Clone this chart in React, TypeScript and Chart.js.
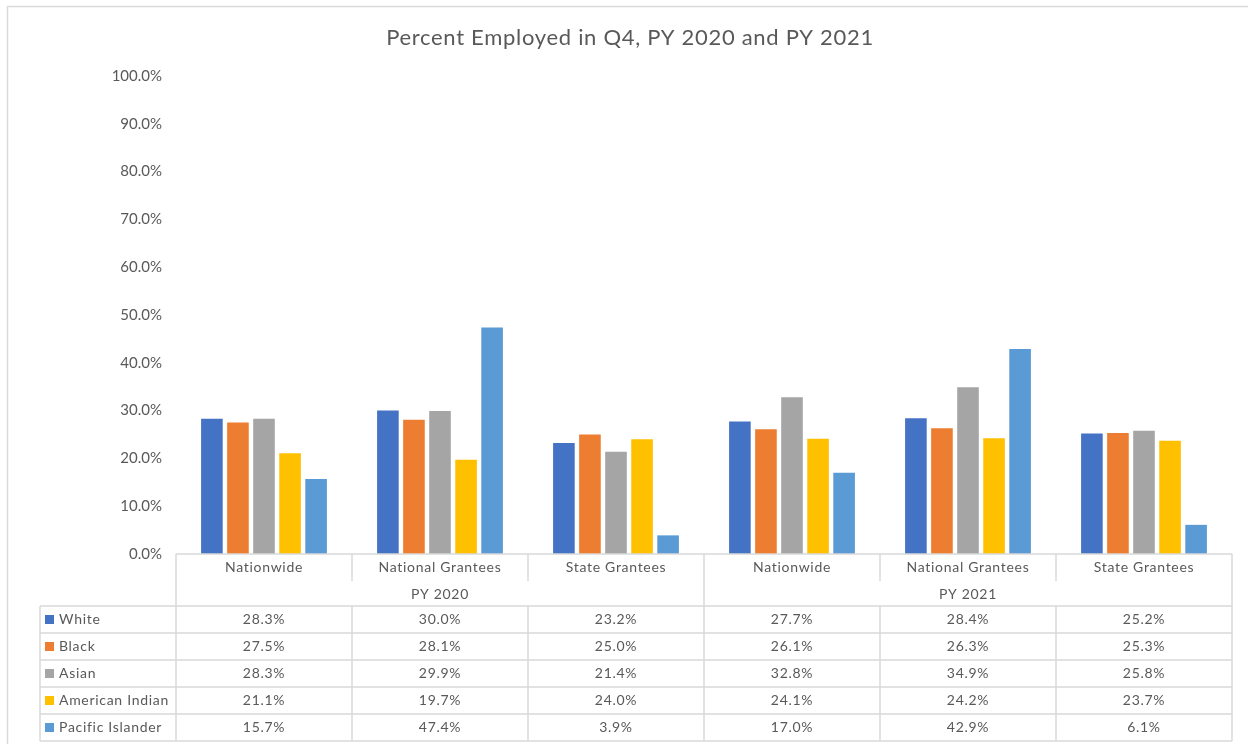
import React, { useEffect, useRef } from "react";
import { Chart, registerables } from "chart.js";

Chart.register(...registerables);

const categories = ["Nationwide", "National Grantees", "State Grantees", "Nationwide", "National Grantees", "State Grantees"];
const groups = ["PY 2020", "PY 2021"];
const seriesNames = ["White", "Black", "Asian", "American Indian", "Pacific Islander"];
const white = [28.3, 30.0, 23.2, 27.7, 28.4, 25.2];
const black = [27.5, 28.1, 25.0, 26.1, 26.3, 25.3];
const asian = [28.3, 29.9, 21.4, 32.8, 34.9, 25.8];
const americanIndian = [21.1, 19.7, 24.0, 24.1, 24.2, 23.7];
const pacificIslander = [15.7, 47.4, 3.9, 17.0, 42.9, 6.1];
const colors = ["#4472C4", "#ED7D31", "#A5A5A5", "#FFC000", "#5B9BD5"];
const titleText = "Percent Employed in Q4, PY 2020 and PY 2021";

const FONT = "Lato, 'Open Sans', sans-serif";
const TEXT = "#595959";
const LINE = "#D9D9D9";

const tablePlugin = {
  id: "dataTable",
  beforeDraw(chart: any) {
    const ctx = chart.ctx;
    ctx.save();
    ctx.fillStyle = "#ffffff";
    ctx.fillRect(0, 0, chart.width, chart.height);
    ctx.strokeStyle = LINE;
    ctx.lineWidth = 1.5;
    ctx.beginPath();
    ctx.moveTo(7.5, chart.height);
    ctx.lineTo(7.5, 6.5);
    ctx.lineTo(chart.width, 6.5);
    ctx.stroke();
    ctx.fillStyle = TEXT;
    ctx.font = `22px ${FONT}`;
    (ctx as any).letterSpacing = "0.7px";
    ctx.textAlign = "center";
    ctx.textBaseline = "middle";
    ctx.fillText(titleText, 630, 38);
    ctx.restore();
  },
  afterDraw(chart: any) {
    const ctx = chart.ctx;
    const area = chart.chartArea;
    const xs = chart.scales.x;
    const n = categories.length;
    const catW = (area.right - area.left) / n;
    const bounds: number[] = [];
    for (let i = 0; i < n; i++) bounds.push(xs.getPixelForValue(i) - catW / 2);
    bounds.push(xs.getPixelForValue(n - 1) + catW / 2);
    const top = area.bottom;
    const r1 = top + 27;
    const r2 = top + 52;
    const rowH = 27;
    const bottom = r2 + rowH * seriesNames.length;
    const legendLeft = 40;
    const perGroup = n / groups.length;

    ctx.save();
    ctx.strokeStyle = LINE;
    ctx.lineWidth = 1.5;
    const line = (x1: number, y1: number, x2: number, y2: number) => {
      ctx.beginPath();
      ctx.moveTo(x1, y1);
      ctx.lineTo(x2, y2);
      ctx.stroke();
    };
    line(bounds[0], top, bounds[n], top);
    for (let i = 0; i <= seriesNames.length; i++) {
      const y = r2 + i * rowH;
      line(legendLeft, y, bounds[n], y);
    }
    for (let i = 0; i <= n; i++) {
      const isOuter = i === 0 || i === n || i % perGroup === 0;
      line(bounds[i], top, bounds[i], isOuter ? r2 : r1);
      line(bounds[i], r2, bounds[i], bottom);
    }
    line(legendLeft, r2, legendLeft, bottom);

    ctx.fillStyle = TEXT;
    ctx.font = `14px ${FONT}`;
    (ctx as any).letterSpacing = "0.7px";
    ctx.textBaseline = "middle";
    ctx.textAlign = "center";
    for (let i = 0; i < n; i++) {
      ctx.fillText(categories[i], (bounds[i] + bounds[i + 1]) / 2, (top + r1) / 2);
    }
    for (let g = 0; g < groups.length; g++) {
      const a = bounds[g * perGroup];
      const b = bounds[(g + 1) * perGroup];
      ctx.fillText(groups[g], (a + b) / 2, (r1 + r2) / 2 + 1);
    }
    chart.data.datasets.forEach((ds: any, s: number) => {
      const yc = r2 + s * rowH + rowH / 2;
      ctx.textAlign = "center";
      ctx.fillStyle = TEXT;
      ds.data.forEach((v: number, i: number) => {
        ctx.fillText(v.toFixed(1) + "%", (bounds[i] + bounds[i + 1]) / 2, yc);
      });
      ctx.fillStyle = ds.backgroundColor;
      ctx.fillRect(45, yc - 4.5, 9, 9);
      ctx.fillStyle = TEXT;
      ctx.textAlign = "left";
      ctx.fillText(ds.label, 59, yc);
    });
    ctx.restore();
  },
};

export default function App() {
  const ref = useRef<HTMLCanvasElement | null>(null);
  useEffect(() => {
    if (!ref.current) return;
    const seriesValues = [white, black, asian, americanIndian, pacificIslander];
    const chart = new Chart(ref.current, {
      type: "bar",
      data: {
        labels: categories,
        datasets: seriesNames.map((name, i) => ({
          label: name,
          data: seriesValues[i],
          backgroundColor: colors[i],
          borderWidth: 0,
          categoryPercentage: 0.74,
          barPercentage: 0.83,
        })),
      },
      options: {
        responsive: false,
        animation: false,
        layout: { padding: { left: 0, right: 16, top: 76, bottom: 190 } },
        plugins: {
          legend: { display: false },
          title: { display: false },
          tooltip: { enabled: false },
        },
        scales: {
          x: { display: false },
          y: {
            min: 0,
            max: 100,
            afterFit: (s: any) => {
              s.width = 176;
            },
            grid: { display: false, drawTicks: false },
            border: { display: false },
            ticks: {
              stepSize: 10,
              padding: 14,
              color: TEXT,
              font: { family: FONT, size: 15 },
              callback: (v: any) => Number(v).toFixed(1) + "%",
            },
          },
        },
      },
      plugins: [tablePlugin],
    });
    return () => chart.destroy();
  }, []);
  return (
    <div style={{ position: "fixed", left: 0, top: 0, width: 1248, height: 744, background: "#fff" }}>
      <canvas ref={ref} width={1248} height={744} />
    </div>
  );
}
